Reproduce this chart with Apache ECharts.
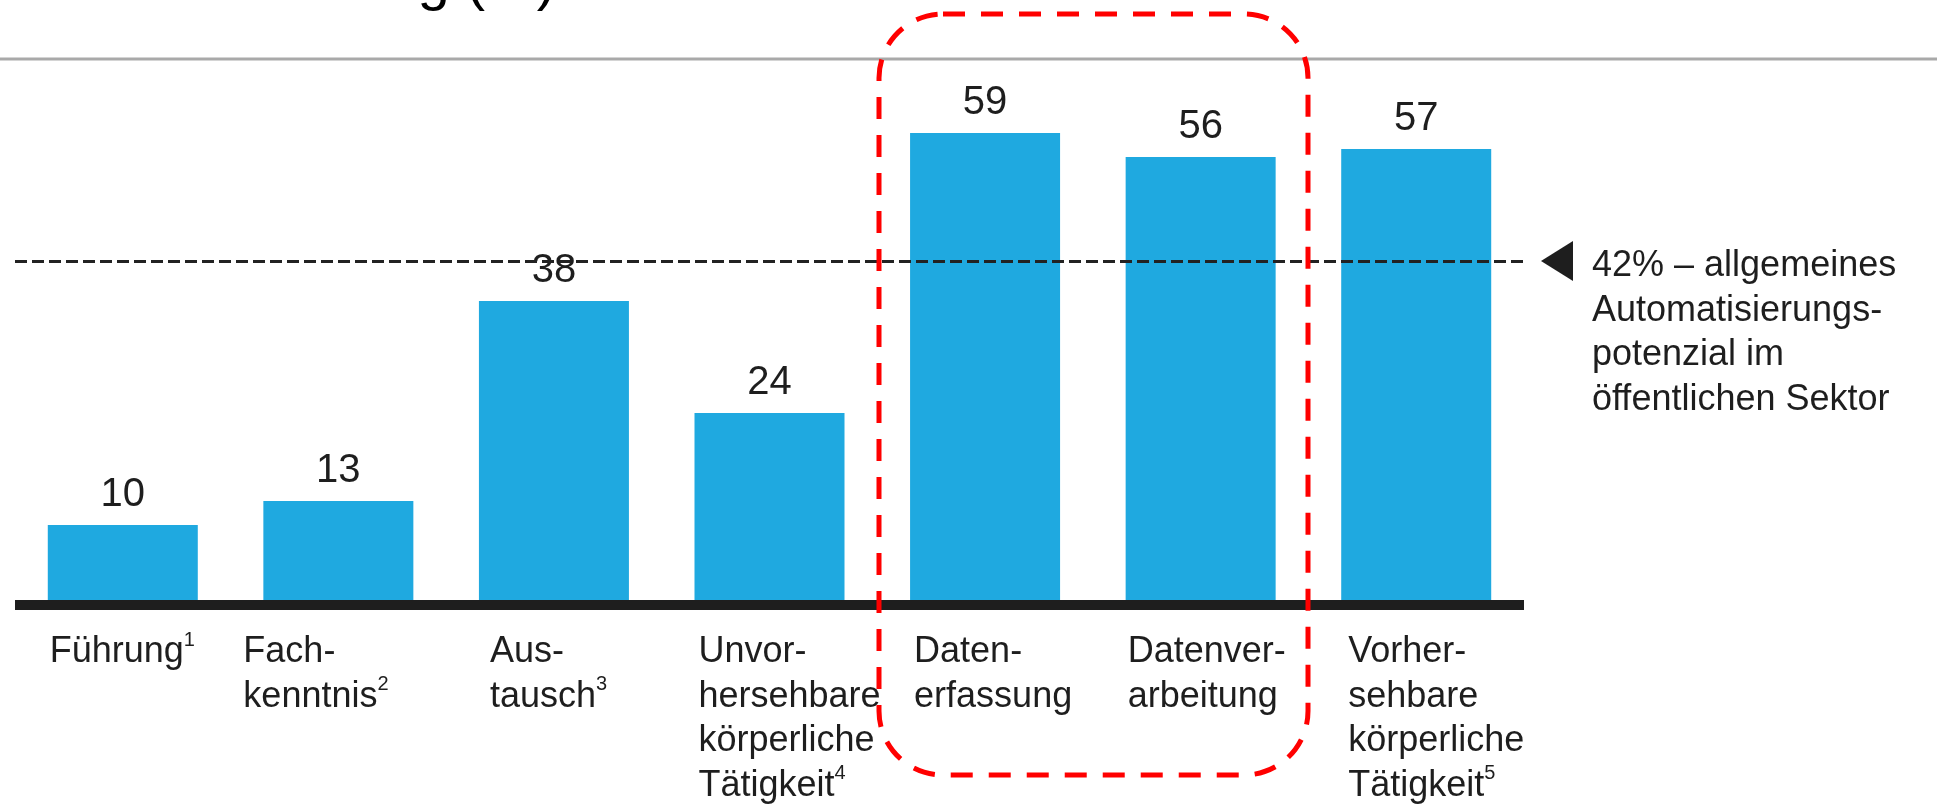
<!DOCTYPE html>
<html>
<head>
<meta charset="utf-8">
<script src="https://cdn.jsdelivr.net/npm/echarts@6/dist/echarts.min.js"></script>
<style>
  html, body { margin: 0; padding: 0; background: #fff; }
  #main { width: 1937px; height: 808px; }
</style>
</head>
<body>
<div id="main"></div>
<script>
// Kategorien und Werte (Automatisierungspotenzial in %)
var categories = [
  'Führung¹',
  'Fach-\nkenntnis²',
  'Aus-\ntausch³',
  'Unvor-\nhersehbare\nkörperliche\nTätigkeit⁴',
  'Daten-\nerfassung',
  'Datenver-\narbeitung',
  'Vorher-\nsehbare\nkörperliche\nTätigkeit⁵'
];
var values = [10, 13, 38, 24, 59, 56, 57];
var refLine = 43; // gestrichelte Linie, so wie im Bild gezeichnet
var refText = ['42% – allgemeines', 'Automatisierungs-', 'potenzial im', 'öffentlichen Sektor'];
var titleText = 'Automatisierungspotenzial in der Verwaltung (%)';

(function () {
  var chart = echarts.init(document.getElementById('main'));
  var font = "'Liberation Sans', Arial, sans-serif";
  var ink = '#1e1e1e';

  // Labels stehen linksbündig etwa an der Balkenkante
  var shift = [-73, -95, -64, -71, -71, -73, -68];
  var supMap = { '¹': '1', '²': '2', '³': '3', '⁴': '4', '⁵': '5' };

  var option = {
    backgroundColor: '#fff',
    animation: false,
    grid: { left: 15, right: 413, top: 125, bottom: 201, containLabel: false },
    xAxis: {
      type: 'category',
      z: 5,
      data: categories.map(function (c, i) {
        return { value: c, textStyle: { align: 'left', padding: [0, 0, 0, shift[i]] } };
      }),
      axisLine: { lineStyle: { color: ink, width: 10, cap: 'butt' } },
      axisTick: { show: false },
      axisLabel: {
        interval: 0,
        align: 'left',
        verticalAlign: 'top',
        margin: 25,
        color: ink,
        fontFamily: font,
        fontSize: 36,
        lineHeight: 44.5,
        formatter: function (v) {
          return v.replace(/[¹²³⁴⁵]/g, function (c) { return '{s|' + supMap[c] + '}'; });
        },
        rich: {
          s: { fontSize: 20, lineHeight: 32, verticalAlign: 'top', color: ink, fontFamily: font }
        }
      }
    },
    yAxis: {
      type: 'value',
      min: 0,
      max: 60,
      show: false,
      splitLine: { show: false }
    },
    series: [{
      type: 'bar',
      data: values,
      barWidth: 150,
      itemStyle: { color: '#1fa9e0' },
      label: {
        show: true,
        position: 'top',
        distance: 10,
        color: ink,
        fontFamily: font,
        fontSize: 40
      },
      markLine: {
        silent: true,
        symbol: 'none',
        label: { show: false },
        lineStyle: { type: [12, 5], color: '#222', width: 3 },
        data: [{ yAxis: refLine }]
      }
    }],
    graphic: [
      {
        type: 'text',
        x: 556, y: 12,
        style: {
          text: titleText,
          textAlign: 'right',
          textVerticalAlign: 'bottom',
          font: '58px ' + font,
          fill: '#000'
        }
      },
      {
        type: 'line',
        shape: { x1: 0, y1: 59, x2: 1937, y2: 59 },
        style: { stroke: '#a9a9a9', lineWidth: 3 }
      },
      {
        type: 'rect',
        z: 20,
        shape: { x: 879, y: 14, width: 429, height: 761, r: 64 },
        style: { fill: 'none', stroke: '#ff0000', lineWidth: 5, lineDash: [22, 16] }
      }
    ]
  };
  chart.setOption(option);

  // Pfeil und Beschriftung an der Referenzlinie
  var yRef = chart.convertToPixel({ yAxisIndex: 0 }, refLine);
  chart.setOption({
    graphic: option.graphic.concat([
      {
        type: 'polygon',
        shape: { points: [[1541, yRef], [1573, yRef - 20], [1573, yRef + 20]] },
        style: { fill: ink }
      },
      {
        type: 'text',
        x: 1592, y: yRef - 17,
        style: {
          text: refText.join('\n'),
          font: '36px ' + font,
          lineHeight: 44.5,
          textVerticalAlign: 'top',
          fill: ink
        }
      }
    ])
  });
})();
</script>
</body>
</html>
